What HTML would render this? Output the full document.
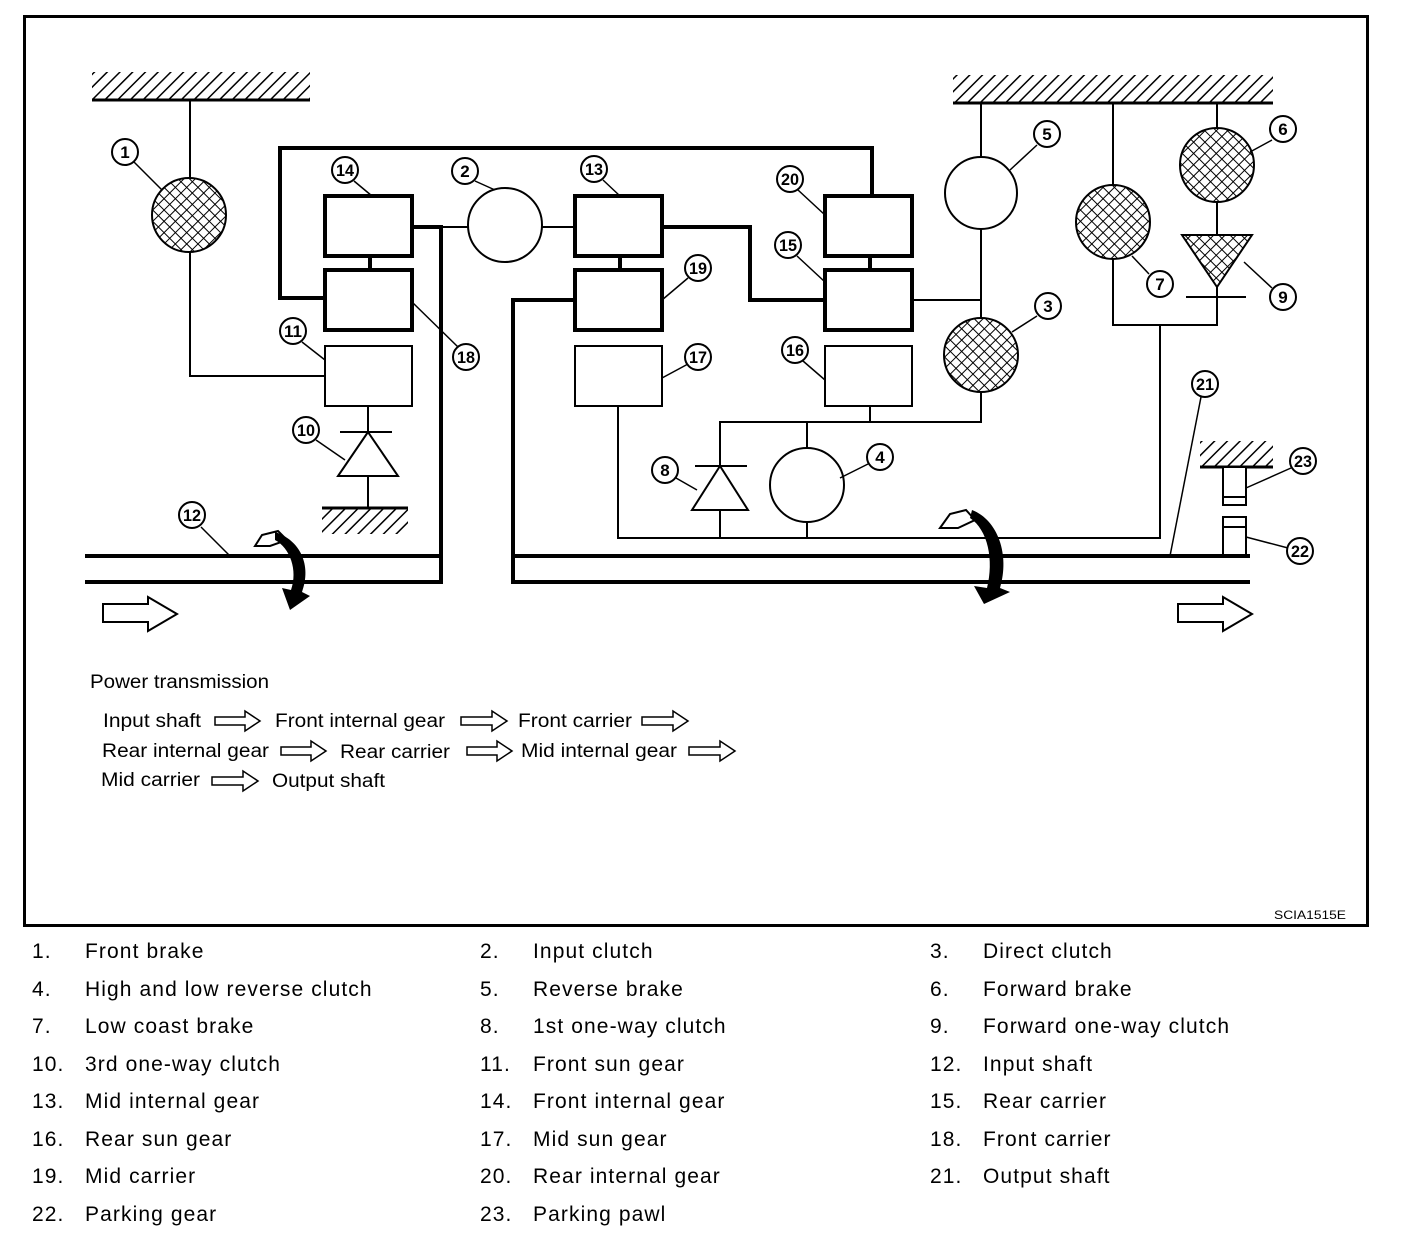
<!DOCTYPE html>
<html><head><meta charset="utf-8"><style>
body{margin:0;background:#fff}
svg{display:block}
text{font-family:"Liberation Sans",sans-serif;fill:#000}
.c{font-weight:bold;font-size:17px}
.lg{font-size:21px;letter-spacing:1.1px}
</style></head><body>
<svg width="1408" height="1240" viewBox="0 0 1408 1240" xmlns="http://www.w3.org/2000/svg">
<defs>
<pattern id="h" width="9" height="9" patternUnits="userSpaceOnUse" patternTransform="rotate(45)">
<rect width="9" height="9" fill="#fff"/><line x1="0" y1="0" x2="0" y2="9" stroke="#000" stroke-width="3"/></pattern>
<pattern id="x" width="8" height="8" patternUnits="userSpaceOnUse" patternTransform="rotate(45)">
<rect width="8" height="8" fill="#fff"/><line x1="0" y1="0" x2="0" y2="8" stroke="#000" stroke-width="2"/><line x1="0" y1="0" x2="8" y2="0" stroke="#000" stroke-width="2"/></pattern>
</defs>
<rect x="24.5" y="16.5" width="1343" height="909" fill="none" stroke="#000" stroke-width="3"/>
<g stroke="#000" fill="none">
<rect x="92" y="72" width="218" height="28" fill="url(#h)" stroke="none"/><line x1="92" y1="100" x2="310" y2="100" stroke-width="3"/>
<rect x="953" y="75" width="320" height="28" fill="url(#h)" stroke="none"/><line x1="953" y1="103" x2="1273" y2="103" stroke-width="3"/>
<rect x="322" y="508" width="86" height="26" fill="url(#h)" stroke="none"/><line x1="322" y1="508" x2="408" y2="508" stroke-width="3"/>
<rect x="1200" y="441" width="73" height="26" fill="url(#h)" stroke="none"/><line x1="1200" y1="467" x2="1273" y2="467" stroke-width="3"/>
<g stroke-width="2">
<polyline points="190,100 190,376 325,376"/>
<line x1="441" y1="227" x2="468" y2="227"/><line x1="542" y1="227" x2="575" y2="227"/>
<line x1="368" y1="406" x2="368" y2="508"/><line x1="340" y1="432" x2="392" y2="432"/>
<polygon points="368,432 338,476 398,476" fill="#fff"/>
<line x1="912" y1="300" x2="981" y2="300"/>
<line x1="981" y1="103" x2="981" y2="422"/>
<polyline points="981,392 981,422 720,422 720,538"/>
<line x1="870" y1="406" x2="870" y2="422"/>
<line x1="807" y1="422" x2="807" y2="538"/>
<line x1="695" y1="466" x2="747" y2="466"/>
<polygon points="720,466 692,510 748,510" fill="#fff"/>
<polyline points="618,406 618,538 1160,538 1160,325"/>
<polyline points="1113,103 1113,325 1217,325 1217,103"/>
<line x1="1186" y1="297" x2="1246" y2="297"/>
<rect x="1223" y="467" width="23" height="38" fill="#fff"/><line x1="1223" y1="497" x2="1246" y2="497"/>
<rect x="1223" y="517" width="23" height="39" fill="#fff"/><line x1="1223" y1="527" x2="1246" y2="527"/>
</g>
<g stroke-width="4">
<polyline points="872,196 872,148 280,148 280,298 325,298"/>
<polyline points="412,227 441,227 441,582 85,582"/>
<line x1="85" y1="556" x2="441" y2="556"/>
<polyline points="575,300 513,300 513,582 1250,582"/>
<line x1="513" y1="556" x2="1250" y2="556"/>
<polyline points="662,227 750,227 750,300 825,300"/>
<line x1="370" y1="256" x2="370" y2="270"/><line x1="620" y1="256" x2="620" y2="270"/><line x1="870" y1="256" x2="870" y2="270"/>
<rect x="325" y="196" width="87" height="60" fill="#fff"/>
<rect x="325" y="270" width="87" height="60" fill="#fff"/>
<rect x="575" y="196" width="87" height="60" fill="#fff"/>
<rect x="575" y="270" width="87" height="60" fill="#fff"/>
<rect x="825" y="196" width="87" height="60" fill="#fff"/>
<rect x="825" y="270" width="87" height="60" fill="#fff"/>
</g>
<g stroke-width="2" fill="#fff">
<rect x="325" y="346" width="87" height="60"/>
<rect x="575" y="346" width="87" height="60"/>
<rect x="825" y="346" width="87" height="60"/>
<circle cx="505" cy="225" r="37"/>
<circle cx="981" cy="193" r="36"/>
<circle cx="807" cy="485" r="37"/>
<circle cx="189" cy="215" r="37" fill="url(#x)"/>
<circle cx="981" cy="355" r="37" fill="url(#x)"/>
<circle cx="1113" cy="222" r="37" fill="url(#x)"/>
<circle cx="1217" cy="165" r="37" fill="url(#x)"/>
<polygon points="1182,235 1252,235 1217,287" fill="url(#x)"/>
</g>
<g stroke-width="1.5">
<line x1="134" y1="162" x2="162" y2="190"/>
<line x1="354" y1="181" x2="372" y2="196"/>
<line x1="475" y1="181" x2="495" y2="190"/>
<line x1="603" y1="180" x2="620" y2="196"/>
<line x1="798" y1="190" x2="825" y2="215"/>
<line x1="797" y1="256" x2="825" y2="282"/>
<line x1="688" y1="278" x2="662" y2="300"/>
<line x1="688" y1="364" x2="662" y2="378"/>
<line x1="803" y1="361" x2="825" y2="380"/>
<line x1="458" y1="347" x2="412" y2="302"/>
<line x1="302" y1="342" x2="325" y2="360"/>
<line x1="316" y1="440" x2="345" y2="460"/>
<line x1="201" y1="527" x2="230" y2="556"/>
<line x1="1037" y1="145" x2="1010" y2="170"/>
<line x1="1037" y1="316" x2="1012" y2="332"/>
<line x1="1272" y1="140" x2="1250" y2="152"/>
<line x1="1149" y1="274" x2="1132" y2="256"/>
<line x1="1272" y1="288" x2="1244" y2="262"/>
<line x1="868" y1="464" x2="840" y2="478"/>
<line x1="676" y1="478" x2="697" y2="490"/>
<line x1="1201" y1="397" x2="1170" y2="556"/>
<line x1="1291" y1="468" x2="1246" y2="488"/>
<line x1="1288" y1="548" x2="1246" y2="537"/>
</g>
<g stroke-width="2" fill="#fff">
<polygon points="103,604 148,604 148,597 177,614 148,631 148,622 103,622"/>
<polygon points="1178,604 1223,604 1223,597 1252,614 1223,631 1223,622 1178,622"/>
<polygon points="255,546 262,535 278,531 287,540 270,546"/>
<polygon points="940,528 950,514 966,510 975,520 958,528"/>
</g>
<path d="M275,532 C300,540 312,565 302,592 L310,596 L290,610 L282,588 L291,590 C298,570 290,548 275,540 Z" fill="#000" stroke="none"/>
<path d="M972,510 C998,520 1010,555 1000,588 L1010,592 L984,604 L974,586 L987,588 C994,560 988,530 970,518 Z" fill="#000" stroke="none"/>
<g stroke-width="1.5" fill="#fff">
<polygon points="215,717 245,717 245,711 260,721 245,731 245,725 215,725"/>
<polygon points="461,717 492,717 492,711 507,721 492,731 492,725 461,725"/>
<polygon points="642,717 673,717 673,711 688,721 673,731 673,725 642,725"/>
<polygon points="281,747 311,747 311,741 326,751 311,761 311,755 281,755"/>
<polygon points="467,747 497,747 497,741 512,751 497,761 497,755 467,755"/>
<polygon points="689,747 720,747 720,741 735,751 720,761 720,755 689,755"/>
<polygon points="212,777 243,777 243,771 258,781 243,791 243,785 212,785"/>
</g>
</g>
<g stroke="#000" stroke-width="2" fill="#fff">
<circle cx="125" cy="152" r="13"/><circle cx="345" cy="170" r="13"/><circle cx="465" cy="171" r="13"/>
<circle cx="594" cy="169" r="13"/><circle cx="790" cy="179" r="13"/><circle cx="788" cy="245" r="13"/>
<circle cx="698" cy="268" r="13"/><circle cx="698" cy="357" r="13"/><circle cx="795" cy="350" r="13"/>
<circle cx="466" cy="357" r="13"/><circle cx="293" cy="331" r="13"/><circle cx="306" cy="430" r="13"/>
<circle cx="192" cy="515" r="13"/><circle cx="1047" cy="134" r="13"/><circle cx="1048" cy="306" r="13"/>
<circle cx="1283" cy="129" r="13"/><circle cx="1160" cy="284" r="13"/><circle cx="1283" cy="297" r="13"/>
<circle cx="880" cy="457" r="13"/><circle cx="665" cy="470" r="13"/><circle cx="1205" cy="384" r="13"/>
<circle cx="1303" cy="461" r="13"/><circle cx="1300" cy="551" r="13"/>
</g>
<g class="c" text-anchor="middle">
<text x="125" y="158" class="c">1</text><text x="345" y="176" class="c" textLength="18" lengthAdjust="spacingAndGlyphs">14</text><text x="465" y="177" class="c">2</text>
<text x="594" y="175" class="c" textLength="18" lengthAdjust="spacingAndGlyphs">13</text><text x="790" y="185" class="c" textLength="18" lengthAdjust="spacingAndGlyphs">20</text><text x="788" y="251" class="c" textLength="18" lengthAdjust="spacingAndGlyphs">15</text>
<text x="698" y="274" class="c" textLength="18" lengthAdjust="spacingAndGlyphs">19</text><text x="698" y="363" class="c" textLength="18" lengthAdjust="spacingAndGlyphs">17</text><text x="795" y="356" class="c" textLength="18" lengthAdjust="spacingAndGlyphs">16</text>
<text x="466" y="363" class="c" textLength="18" lengthAdjust="spacingAndGlyphs">18</text><text x="293" y="337" class="c" textLength="18" lengthAdjust="spacingAndGlyphs">11</text><text x="306" y="436" class="c" textLength="18" lengthAdjust="spacingAndGlyphs">10</text>
<text x="192" y="521" class="c" textLength="18" lengthAdjust="spacingAndGlyphs">12</text><text x="1047" y="140" class="c">5</text><text x="1048" y="312" class="c">3</text>
<text x="1283" y="135" class="c">6</text><text x="1160" y="290" class="c">7</text><text x="1283" y="303" class="c">9</text>
<text x="880" y="463" class="c">4</text><text x="665" y="476" class="c">8</text><text x="1205" y="390" class="c" textLength="18" lengthAdjust="spacingAndGlyphs">21</text>
<text x="1303" y="467" class="c" textLength="18" lengthAdjust="spacingAndGlyphs">23</text><text x="1300" y="557" class="c" textLength="18" lengthAdjust="spacingAndGlyphs">22</text>
</g>
<g font-size="19">
<text x="90" y="688" textLength="179" lengthAdjust="spacingAndGlyphs">Power transmission</text>
<text x="103" y="727" textLength="98" lengthAdjust="spacingAndGlyphs">Input shaft</text>
<text x="275" y="727" textLength="170" lengthAdjust="spacingAndGlyphs">Front internal gear</text>
<text x="518" y="727" textLength="114" lengthAdjust="spacingAndGlyphs">Front carrier</text>
<text x="102" y="757" textLength="167" lengthAdjust="spacingAndGlyphs">Rear internal gear</text>
<text x="340" y="758" textLength="110" lengthAdjust="spacingAndGlyphs">Rear carrier</text>
<text x="521" y="757" textLength="156" lengthAdjust="spacingAndGlyphs">Mid internal gear</text>
<text x="101" y="786" textLength="99" lengthAdjust="spacingAndGlyphs">Mid carrier</text>
<text x="272" y="787" textLength="113" lengthAdjust="spacingAndGlyphs">Output shaft</text>
</g>
<text x="1274" y="919" font-size="12" textLength="72" lengthAdjust="spacingAndGlyphs">SCIA1515E</text>
<g class="lg">
<text x="32" y="958">1.</text><text x="85" y="958">Front brake</text>
<text x="480" y="958">2.</text><text x="533" y="958">Input clutch</text>
<text x="930" y="958">3.</text><text x="983" y="958">Direct clutch</text>
<text x="32" y="996">4.</text><text x="85" y="996">High and low reverse clutch</text>
<text x="480" y="996">5.</text><text x="533" y="996">Reverse brake</text>
<text x="930" y="996">6.</text><text x="983" y="996">Forward brake</text>
<text x="32" y="1033">7.</text><text x="85" y="1033">Low coast brake</text>
<text x="480" y="1033">8.</text><text x="533" y="1033">1st one-way clutch</text>
<text x="930" y="1033">9.</text><text x="983" y="1033">Forward one-way clutch</text>
<text x="32" y="1071">10.</text><text x="85" y="1071">3rd one-way clutch</text>
<text x="480" y="1071">11.</text><text x="533" y="1071">Front sun gear</text>
<text x="930" y="1071">12.</text><text x="983" y="1071">Input shaft</text>
<text x="32" y="1108">13.</text><text x="85" y="1108">Mid internal gear</text>
<text x="480" y="1108">14.</text><text x="533" y="1108">Front internal gear</text>
<text x="930" y="1108">15.</text><text x="983" y="1108">Rear carrier</text>
<text x="32" y="1146">16.</text><text x="85" y="1146">Rear sun gear</text>
<text x="480" y="1146">17.</text><text x="533" y="1146">Mid sun gear</text>
<text x="930" y="1146">18.</text><text x="983" y="1146">Front carrier</text>
<text x="32" y="1183">19.</text><text x="85" y="1183">Mid carrier</text>
<text x="480" y="1183">20.</text><text x="533" y="1183">Rear internal gear</text>
<text x="930" y="1183">21.</text><text x="983" y="1183">Output shaft</text>
<text x="32" y="1221">22.</text><text x="85" y="1221">Parking gear</text>
<text x="480" y="1221">23.</text><text x="533" y="1221">Parking pawl</text>
</g>
</svg>
</body></html>
